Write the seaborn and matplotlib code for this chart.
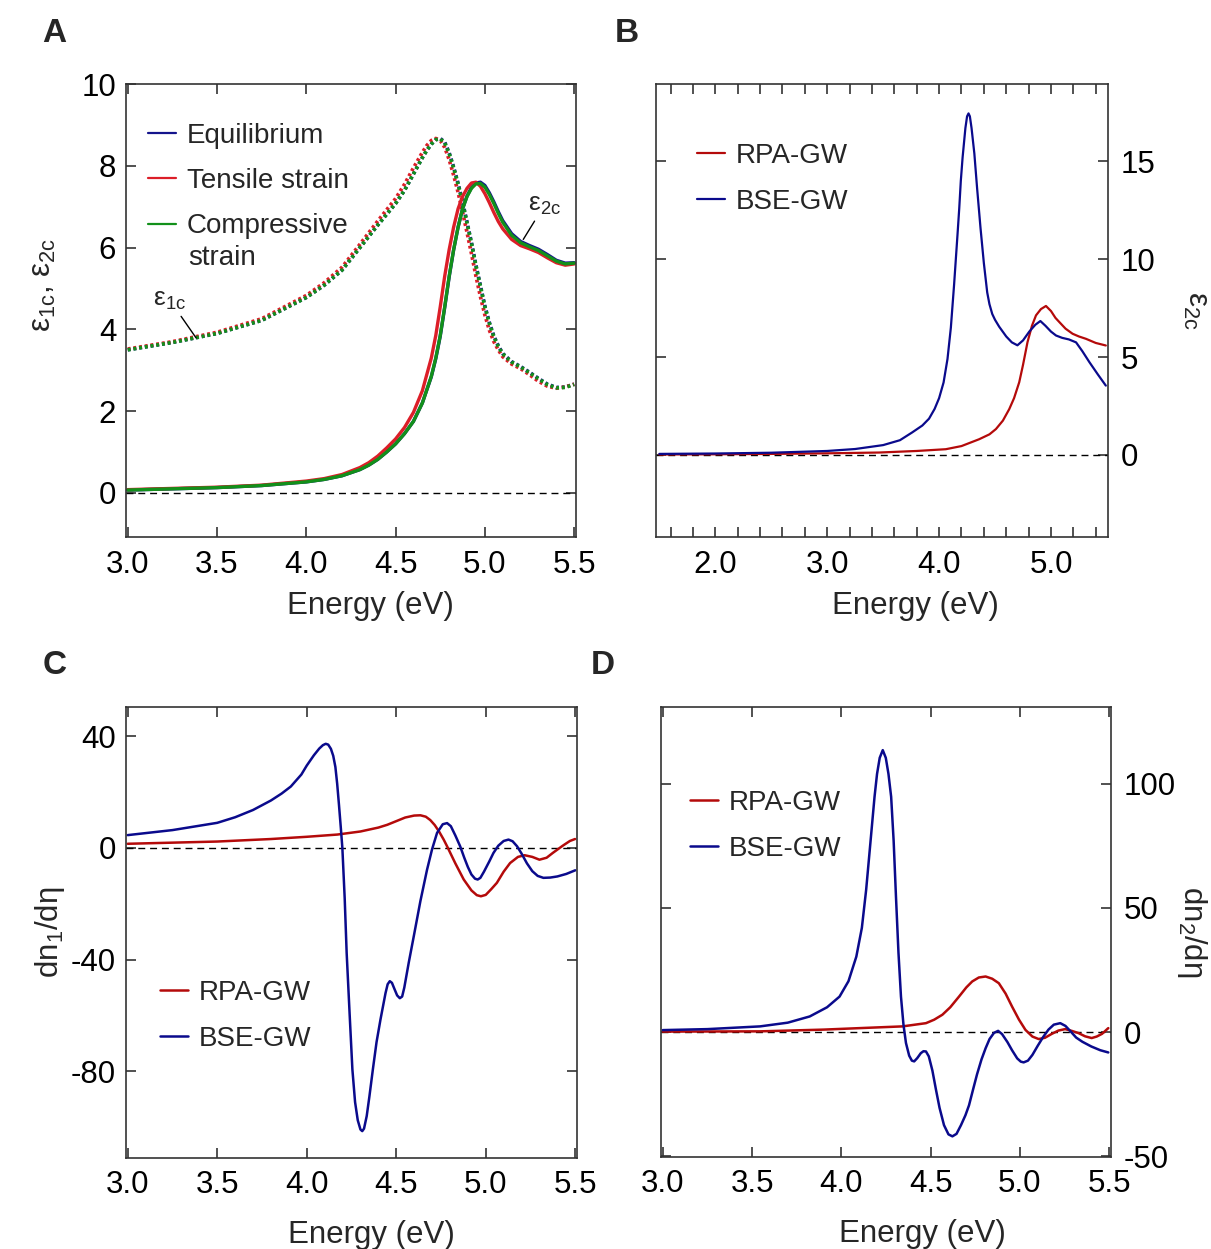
import numpy as np
import pandas as pd
import seaborn as sns
import matplotlib.pyplot as plt
from matplotlib.ticker import MultipleLocator, FixedLocator

# ---------- data ----------
# panel A, eps_2c (solid)
eA2 = [3.0, 3.25, 3.5, 3.75, 4.0, 4.1, 4.2, 4.3, 4.35, 4.4, 4.45, 4.5, 4.55, 4.6, 4.65, 4.7,
       4.725, 4.75, 4.775, 4.8, 4.825, 4.85, 4.875, 4.9, 4.925, 4.95, 4.975, 5.0, 5.025, 5.05,
       5.075, 5.1, 5.15, 5.2, 5.25, 5.3, 5.35, 5.4, 5.45, 5.5]
eps2_equil = [0.07, 0.10, 0.13, 0.18, 0.27, 0.33, 0.42, 0.57, 0.68, 0.82, 1.0, 1.2, 1.45, 1.75,
              2.2, 2.84, 3.28, 3.83, 4.53, 5.28, 5.94, 6.5, 6.95, 7.26, 7.47, 7.58, 7.6, 7.52,
              7.34, 7.12, 6.88, 6.66, 6.34, 6.15, 6.05, 5.96, 5.83, 5.69, 5.62, 5.63]
eps2_tensile = [0.08, 0.11, 0.14, 0.19, 0.29, 0.35, 0.45, 0.62, 0.74, 0.9, 1.1, 1.32, 1.6, 1.97,
                2.5, 3.3, 3.85, 4.55, 5.3, 5.95, 6.5, 6.95, 7.25, 7.45, 7.58, 7.6, 7.5, 7.32,
                7.1, 6.86, 6.64, 6.46, 6.2, 6.05, 5.97, 5.88, 5.75, 5.63, 5.57, 5.6]
eps2_compress = [0.07, 0.10, 0.13, 0.18, 0.27, 0.33, 0.42, 0.57, 0.68, 0.82, 1.0, 1.2, 1.45, 1.75,
                 2.2, 2.85, 3.3, 3.85, 4.55, 5.3, 5.95, 6.5, 6.95, 7.25, 7.45, 7.56, 7.57, 7.48,
                 7.3, 7.08, 6.84, 6.62, 6.3, 6.12, 6.02, 5.93, 5.8, 5.67, 5.6, 5.62]

# panel A, eps_1c (dotted)
eA1 = [3.0, 3.25, 3.5, 3.75, 4.0, 4.1, 4.2, 4.3, 4.4, 4.5, 4.55, 4.6, 4.65, 4.675, 4.7, 4.725,
       4.75, 4.775, 4.8, 4.825, 4.85, 4.875, 4.9, 4.925, 4.95, 4.975, 5.0, 5.025, 5.05, 5.075,
       5.1, 5.15, 5.2, 5.25, 5.3, 5.35, 5.4, 5.45, 5.5]
eps1_equil = [3.50, 3.68, 3.90, 4.22, 4.78, 5.08, 5.45, 6.0, 6.55, 7.08, 7.4, 7.8, 8.2, 8.38,
              8.53, 8.64, 8.67, 8.58, 8.32, 7.97, 7.57, 7.12, 6.62, 6.12, 5.57, 5.07, 4.57,
              4.17, 3.84, 3.6, 3.41, 3.21, 3.09, 2.95, 2.8, 2.66, 2.58, 2.59, 2.66]
eps1_tensile = [3.52, 3.70, 3.93, 4.26, 4.83, 5.14, 5.52, 6.08, 6.65, 7.2, 7.55, 7.95, 8.33,
                8.5, 8.62, 8.67, 8.62, 8.45, 8.15, 7.77, 7.35, 6.87, 6.37, 5.85, 5.3, 4.8,
                4.35, 3.98, 3.7, 3.5, 3.33, 3.15, 3.04, 2.89, 2.73, 2.61, 2.56, 2.59, 2.66]
eps1_compress = [3.50, 3.68, 3.90, 4.22, 4.78, 5.08, 5.45, 6.0, 6.55, 7.08, 7.4, 7.8, 8.2, 8.38,
                 8.53, 8.64, 8.66, 8.56, 8.3, 7.95, 7.55, 7.1, 6.6, 6.1, 5.55, 5.05, 4.55,
                 4.15, 3.82, 3.58, 3.4, 3.2, 3.08, 2.94, 2.79, 2.65, 2.57, 2.58, 2.65]

# panel B, eps_2c
eB_bse = [1.5, 2.0, 2.5, 3.0, 3.25, 3.5, 3.65, 3.76, 3.85, 3.91, 3.96, 4.0, 4.04, 4.075, 4.105,
          4.134, 4.165, 4.18, 4.194, 4.21, 4.235, 4.25, 4.263, 4.275, 4.29, 4.315, 4.34, 4.37,
          4.4, 4.43, 4.45, 4.475, 4.5, 4.537, 4.6, 4.65, 4.7, 4.75, 4.806, 4.86, 4.905, 4.95,
          5.0, 5.045, 5.1, 5.16, 5.224, 5.28, 5.343, 5.42, 5.49]
bse_eps2 = [0.05, 0.07, 0.11, 0.2, 0.3, 0.5, 0.75, 1.15, 1.5, 1.85, 2.35, 2.9, 3.7, 4.9, 6.5,
            8.7, 11.3, 12.6, 14.0, 15.2, 16.7, 17.3, 17.45, 17.3, 16.7, 15.4, 13.6, 11.6, 9.8,
            8.3, 7.7, 7.2, 6.9, 6.55, 6.05, 5.75, 5.6, 5.85, 6.3, 6.65, 6.84, 6.6, 6.3, 6.1,
            5.98, 5.9, 5.75, 5.3, 4.74, 4.1, 3.54]
eB_rpa = [1.5, 2.0, 2.5, 3.0, 3.463, 3.8, 4.06, 4.2, 4.358, 4.45, 4.508, 4.57, 4.627, 4.67,
          4.716, 4.75, 4.79, 4.83, 4.866, 4.91, 4.955, 5.0, 5.04, 5.074, 5.13, 5.193, 5.25,
          5.313, 5.4, 5.49]
rpa_eps2 = [0.02, 0.03, 0.05, 0.08, 0.12, 0.2, 0.29, 0.45, 0.8, 1.05, 1.32, 1.75, 2.34, 2.9,
            3.71, 4.6, 5.76, 6.6, 7.13, 7.45, 7.61, 7.35, 7.0, 6.79, 6.45, 6.19, 6.05, 5.93,
            5.72, 5.59]

# panel C, dn1/deta
eC_bse = [3.0, 3.25, 3.5, 3.6, 3.7, 3.8, 3.86, 3.911, 3.97, 4.0, 4.04, 4.07, 4.09, 4.106, 4.12,
          4.135, 4.148, 4.16, 4.17, 4.18, 4.19, 4.199, 4.212, 4.223, 4.24, 4.255, 4.27, 4.285,
          4.3, 4.31, 4.32, 4.335, 4.35, 4.37, 4.39, 4.412, 4.44, 4.452, 4.464, 4.476, 4.49,
          4.505, 4.52, 4.533, 4.545, 4.57, 4.598, 4.635, 4.672, 4.7, 4.728, 4.76, 4.784, 4.805,
          4.83, 4.857, 4.88, 4.9, 4.92, 4.94, 4.955, 4.97, 4.99, 5.02, 5.043, 5.07, 5.1, 5.127,
          5.15, 5.175, 5.2, 5.23, 5.26, 5.29, 5.322, 5.36, 5.4, 5.45, 5.5]
bse_dn1 = [4.6, 6.4, 9.0, 11.0, 13.6, 17.0, 19.5, 22.0, 26.3, 29.5, 33.2, 35.6, 36.8, 37.3,
           37.0, 35.5, 33.0, 29.0, 23.0, 15.5, 7.5, 0.0, -18.0, -37.6, -60.0, -79.3, -91.0,
           -97.5, -100.8, -101.4, -100.5, -96.0, -89.0, -79.0, -69.5, -61.4, -52.0, -48.8,
           -47.7, -48.3, -50.5, -52.8, -53.8, -53.2, -50.0, -41.0, -31.6, -19.0, -7.8, -0.5,
           5.4, 8.5, 8.9, 7.8, 4.5, 0.6, -3.5, -6.8, -9.5, -11.0, -11.3, -10.7, -8.5, -4.8,
           -1.8, 0.8, 2.5, 3.0, 2.4, 0.6, -2.0, -5.5, -8.3, -10.0, -10.7, -10.6, -10.2, -9.3,
           -8.0]
eC_rpa = [3.0, 3.5, 3.8, 4.0, 4.171, 4.3, 4.4, 4.45, 4.5, 4.55, 4.6, 4.635, 4.665, 4.69, 4.715,
          4.74, 4.765, 4.784, 4.83, 4.877, 4.92, 4.95, 4.973, 5.0, 5.03, 5.062, 5.1, 5.136,
          5.18, 5.217, 5.26, 5.3, 5.34, 5.374, 5.43, 5.47, 5.499]
rpa_dn1 = [1.5, 2.3, 3.2, 4.0, 4.8, 5.9, 7.3, 8.3, 9.6, 10.9, 11.6, 11.7, 11.2, 10.0, 8.2, 5.8,
           3.0, 0.6, -5.5, -11.3, -15.2, -16.9, -17.3, -16.8, -14.8, -12.5, -8.5, -5.4, -3.2,
           -2.6, -3.2, -4.2, -3.5, -1.8, 0.8, 2.5, 3.2]

# panel D, dn2/deta
eD_bse = [3.0, 3.25, 3.545, 3.7, 3.823, 3.92, 3.99, 4.04, 4.084, 4.115, 4.139, 4.165, 4.186,
          4.2, 4.215, 4.232, 4.249, 4.264, 4.279, 4.293, 4.306, 4.32, 4.334, 4.348, 4.362,
          4.38, 4.395, 4.408, 4.425, 4.445, 4.46, 4.474, 4.49, 4.51, 4.53, 4.55, 4.575, 4.6,
          4.622, 4.645, 4.67, 4.695, 4.715, 4.74, 4.76, 4.785, 4.808, 4.83, 4.855, 4.878, 4.9,
          4.93, 4.956, 4.985, 5.005, 5.021, 5.045, 5.07, 5.1, 5.13, 5.16, 5.19, 5.226, 5.255,
          5.285, 5.315, 5.35, 5.4, 5.45, 5.495]
bse_dn2 = [0.8, 1.2, 2.3, 3.8, 6.3, 10.0, 14.3, 20.5, 30.4, 42.0, 57.3, 78.0, 94.8, 104.0,
           110.5, 113.6, 110.5, 104.0, 94.8, 77.0, 54.6, 32.0, 14.3, 3.0, -4.4, -9.5, -11.5,
           -11.8, -10.5, -8.5, -7.7, -7.8, -9.8, -15.5, -23.2, -30.5, -37.5, -41.2, -42.0,
           -41.0, -37.5, -33.5, -29.5, -22.5, -17.0, -11.0, -6.5, -2.8, -0.3, 0.5, -0.8, -4.0,
           -7.3, -10.6, -11.9, -12.2, -11.5, -9.2, -5.5, -2.0, 1.0, 3.0, 3.6, 2.5, 0.2, -2.2,
           -3.9, -5.8, -7.3, -8.2]
eD_rpa = [3.0, 3.545, 3.9, 4.102, 4.343, 4.474, 4.52, 4.566, 4.61, 4.659, 4.7, 4.733, 4.77,
          4.808, 4.845, 4.882, 4.92, 4.956, 4.995, 5.031, 5.07, 5.105, 5.14, 5.179, 5.215,
          5.253, 5.29, 5.328, 5.365, 5.402, 5.43, 5.46, 5.495]
rpa_dn2 = [0.2, 0.3, 1.0, 1.6, 2.3, 3.6, 5.0, 7.0, 10.0, 14.3, 18.0, 20.4, 22.0, 22.4, 21.5,
           19.7, 15.5, 10.3, 5.0, 0.9, -1.8, -2.8, -2.3, -0.7, 0.6, 1.2, 0.5, -0.4, -1.7, -2.4,
           -1.8, -0.7, 1.6]

strain_labels = ["Equilibrium", "Tensile strain", "Compressive"]
strain_colors = ["#14148c", "#dc1e28", "#12901a"]
c_rpa = "#b40a0a"
c_bse = "#0a0a8c"

# ---------- style ----------
sns.set_theme(style="ticks")
plt.rcParams["font.family"] = ["Liberation Sans", "DejaVu Sans"]
plt.rcParams["axes.unicode_minus"] = False
plt.rcParams["mathtext.default"] = "regular"

TICK_FS = 22.5
LAB_FS = 22.5
LEG_FS = 20

fig = plt.figure(figsize=(12.11, 12.49), dpi=100)
axA = fig.add_axes([0.1040, 0.5700, 0.3716, 0.3627])
axB = fig.add_axes([0.5417, 0.5700, 0.3733, 0.3627])
axC = fig.add_axes([0.1040, 0.0729, 0.3725, 0.3611])
axD = fig.add_axes([0.5458, 0.0737, 0.3716, 0.3603])


def style_axes(ax, xlab_x, xlab_pad):
    for sp in ax.spines.values():
        sp.set_visible(True)
        sp.set_color("#333333")
        sp.set_linewidth(1.2)
    ax.tick_params(which="both", direction="in", top=True, bottom=True, left=True, right=True,
                   length=7, width=1.2, color="#333333", labelsize=TICK_FS,
                   labelcolor="black")
    ax.tick_params(axis="x", which="both", pad=9)
    ax.tick_params(axis="y", which="both", pad=7)
    ax.axhline(0, color="black", lw=1.0, ls=(0, (5, 3.5)), zorder=1)
    ax.set_xlabel("Energy (eV)", fontsize=LAB_FS, labelpad=xlab_pad)
    ax.xaxis.label.set_x(xlab_x)


def line(ax, x, y, color, **kw):
    df = pd.DataFrame({"E": x, "v": y})
    sns.lineplot(data=df, x="E", y="v", ax=ax, color=color, legend=False,
                 estimator=None, sort=False, **kw)


def add_legend(ax, handles, anchor, spacing):
    ax.legend(handles=handles, loc="upper left", bbox_to_anchor=anchor, frameon=False,
              fontsize=LEG_FS, handlelength=1.0, handletextpad=0.4, labelspacing=spacing,
              borderaxespad=0, borderpad=0)


def gw_handles(lw):
    return [plt.Line2D([], [], color=c_rpa, lw=lw, label="RPA-GW"),
            plt.Line2D([], [], color=c_bse, lw=lw, label="BSE-GW")]


# ---------- panel A ----------
eps2_sets = [eps2_equil, eps2_tensile, eps2_compress]
eps1_sets = [eps1_equil, eps1_tensile, eps1_compress]
for vals, col in zip(eps1_sets, strain_colors):
    line(axA, eA1, vals, col, lw=2.6, ls=(0, (0.8, 0.8)))
handles = []
for vals, col, lab in zip(eps2_sets, strain_colors, strain_labels):
    line(axA, eA2, vals, col, lw=2.4)
    handles.append(plt.Line2D([], [], color=col, lw=1.6, label=lab))
style_axes(axA, 0.544, 8)
axA.set_xlim(2.99, 5.51)
axA.set_ylim(-1.08, 10)
axA.xaxis.set_major_locator(MultipleLocator(0.5))
axA.yaxis.set_major_locator(MultipleLocator(2))
axA.xaxis.set_major_formatter(lambda v, p: f"{v:.1f}")
axA.set_ylabel("ε$_{1c}$, ε$_{2c}$", fontsize=LAB_FS, labelpad=17)
axA.yaxis.label.set_y(0.556)
add_legend(axA, handles, (0.049, 0.915), 0.7)
axA.text(0.138, 0.616, "strain", transform=axA.transAxes, fontsize=LEG_FS,
         ha="left", va="center")
axA.annotate("ε$_{1c}$", xy=(3.383, 3.79), xytext=(3.235, 4.72), fontsize=19,
             ha="center", va="center",
             arrowprops=dict(arrowstyle="-", color="black", lw=1, shrinkA=1, shrinkB=0))
axA.annotate("ε$_{2c}$", xy=(5.215, 6.2), xytext=(5.335, 7.05), fontsize=19,
             ha="center", va="center",
             arrowprops=dict(arrowstyle="-", color="black", lw=1, shrinkA=1, shrinkB=0))

# ---------- panel B ----------
line(axB, eB_rpa, rpa_eps2, c_rpa, lw=1.6)
line(axB, eB_bse, bse_eps2, c_bse, lw=1.6)
style_axes(axB, 0.575, 8)
axB.set_xlim(1.47, 5.51)
axB.set_ylim(-4.2, 18.95)
axB.xaxis.set_major_locator(FixedLocator([2.0, 3.0, 4.0, 5.0]))
axB.xaxis.set_minor_locator(MultipleLocator(0.2))
axB.xaxis.set_major_formatter(lambda v, p: f"{v:.1f}")
axB.tick_params(axis="x", which="minor", length=7, width=1.2, direction="in",
                top=True, bottom=True, color="#333333")
axB.yaxis.set_major_locator(MultipleLocator(5))
axB.tick_params(axis="y", labelleft=False, labelright=True, pad=9)
axB.yaxis.set_label_position("right")
axB.set_ylabel("ε$_{2c}$", fontsize=LAB_FS, rotation=270, labelpad=40)
add_legend(axB, gw_handles(1.6), (0.0907, 0.87), 0.72)

# ---------- panel C ----------
line(axC, eC_rpa, rpa_dn1, c_rpa, lw=1.8)
line(axC, eC_bse, bse_dn1, c_bse, lw=1.8)
style_axes(axC, 0.544, 14)
axC.set_xlim(2.99, 5.51)
axC.set_ylim(-111, 50.5)
axC.xaxis.set_major_locator(MultipleLocator(0.5))
axC.xaxis.set_major_formatter(lambda v, p: f"{v:.1f}")
axC.yaxis.set_major_locator(FixedLocator([-80, -40, 0, 40]))
axC.set_ylabel("dn$_1$/dη", fontsize=LAB_FS, labelpad=3)
add_legend(axC, gw_handles(1.8), (0.075, 0.395), 0.72)

# ---------- panel D ----------
line(axD, eD_rpa, rpa_dn2, c_rpa, lw=1.8)
line(axD, eD_bse, bse_dn2, c_bse, lw=1.8)
style_axes(axD, 0.582, 14)
axD.set_xlim(2.99, 5.51)
axD.set_ylim(-50.3, 131)
axD.xaxis.set_major_locator(MultipleLocator(0.5))
axD.xaxis.set_major_formatter(lambda v, p: f"{v:.1f}")
axD.yaxis.set_major_locator(FixedLocator([-50, 0, 50, 100]))
axD.tick_params(axis="y", labelleft=False, labelright=True, pad=9)
axD.yaxis.set_label_position("right")
axD.set_ylabel("dn$_2$/dη", fontsize=LAB_FS, rotation=270, labelpad=24)
add_legend(axD, gw_handles(1.8), (0.064, 0.816), 0.72)

# panel letters
for txt, (x, y) in zip("ABCD", [(0.035, 0.9735), (0.508, 0.9735), (0.035, 0.467), (0.488, 0.467)]):
    fig.text(x, y, txt, fontsize=24, fontweight="bold", ha="left", va="center")

fig.savefig("out.png", dpi=100)
